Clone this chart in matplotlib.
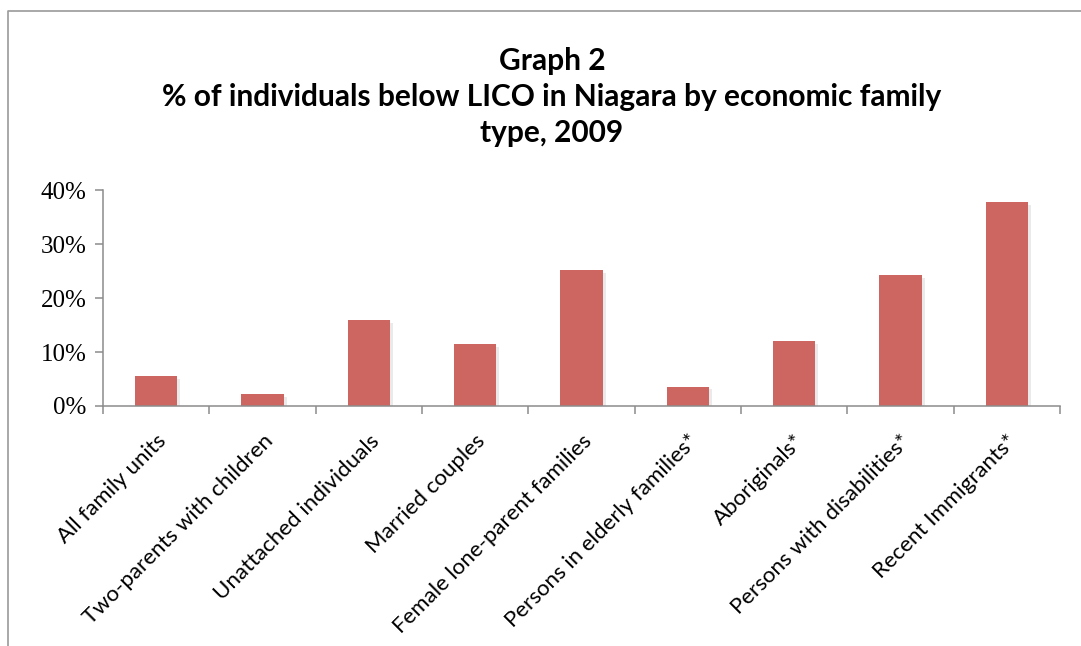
import matplotlib
matplotlib.use("Agg")
import matplotlib.pyplot as plt
from matplotlib.lines import Line2D
from matplotlib.ticker import PercentFormatter, FixedLocator
import matplotlib.patheffects as pe

categorias = ["All family units", "Two-parents with children", "Unattached individuals",
              "Married couples", "Female lone-parent families", "Persons in elderly families*",
              "Aboriginals*", "Persons with disabilities*", "Recent Immigrants*"]
porcentajes = [5.6, 2.2, 15.9, 11.5, 25.1, 3.6, 12.0, 24.3, 37.8]
titulo = ["Graph 2", "% of individuals below LICO in Niagara by economic family", "type, 2009"]

color_barra = "#CD6660"
color_eje = "#8C8C8C"

fig = plt.figure(figsize=(10.81, 6.46), dpi=100)
ax = fig.add_axes([103 / 1081, 1 - 406 / 646, (1060 - 103) / 1081, 216 / 646])

x = list(range(len(categorias)))
ax.bar(x, porcentajes, width=0.4, color=color_barra,
       path_effects=[pe.SimplePatchShadow(offset=(2, -2), shadow_rgbFace="#999999", alpha=0.2),
                     pe.Normal()])

ax.set_xlim(-0.5, len(categorias) - 0.5)
ax.set_ylim(0, 40)
ax.set_yticks([0, 10, 20, 30, 40])
ax.yaxis.set_major_formatter(PercentFormatter(decimals=0))
for lab in ax.get_yticklabels():
    lab.set_fontfamily("Liberation Serif")
    lab.set_fontsize(18)

ax.set_xticks(x)
ax.set_xticklabels(categorias, rotation=45, ha="right", va="top", rotation_mode="anchor",
                   fontsize=16, fontfamily="Lato")
ax.xaxis.set_minor_locator(FixedLocator([i - 0.5 for i in range(len(categorias) + 1)]))
ax.tick_params(axis="x", which="major", length=0, pad=18)
ax.tick_params(axis="x", which="minor", length=6, width=1.1, color=color_eje, direction="out")
ax.tick_params(axis="y", length=6, width=1.1, color=color_eje, direction="out", pad=6)

for lado in ["top", "right"]:
    ax.spines[lado].set_visible(False)
for lado in ["left", "bottom"]:
    ax.spines[lado].set_color(color_eje)
    ax.spines[lado].set_linewidth(1.1)

fig.text(552 / 1081, 1 - 97 / 646, "\n".join(titulo), ha="center", va="center",
         fontsize=21.5, fontweight="bold", fontfamily="Lato", linespacing=1.35)

# marco del grafico
fig.add_artist(Line2D([8 / 1081, 8 / 1081, 1], [0, 1 - 11 / 646, 1 - 11 / 646],
                      transform=fig.transFigure, color="#9A9A9A", linewidth=1.2))

fig.savefig("out.png", dpi=100)
